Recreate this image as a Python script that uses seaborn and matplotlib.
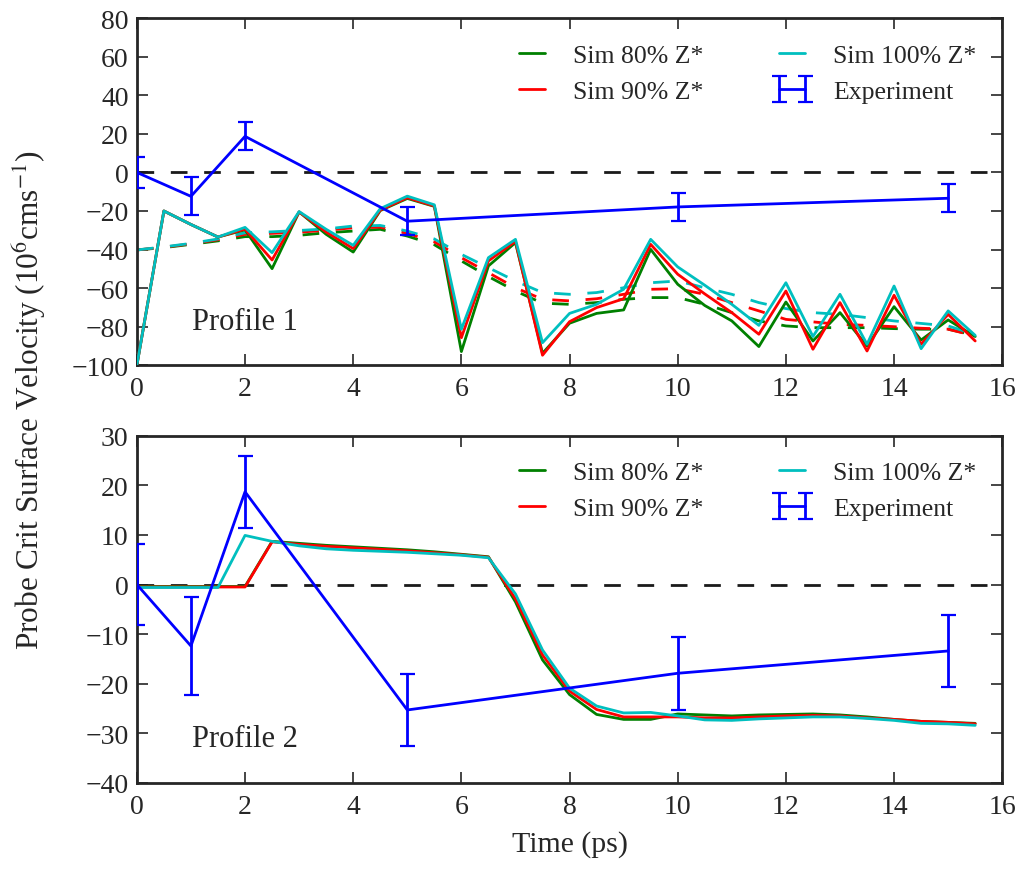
import numpy as np
import pandas as pd
import matplotlib
matplotlib.use("Agg")
import matplotlib.pyplot as plt
import seaborn as sns

# ---- data -------------------------------------------------------------
time = [0.0, 0.5, 1.0, 1.5, 2.0, 2.5, 3.0, 3.5, 4.0, 4.5, 5.0, 5.5,
        6.0, 6.5, 7.0, 7.5, 8.0, 8.5, 9.0, 9.5, 10.0, 10.5, 11.0, 11.5,
        12.0, 12.5, 13.0, 13.5, 14.0, 14.5, 15.0, 15.5]

# Profile 1, instantaneous velocity
p1_z80 = [-100, -20, -27, -33.5, -29.8, -49.9, -20.5, -32.1, -41.3, -19.8, -13.5, -17.6,
          -92.9, -48.5, -36.4, -93.8, -78.2, -73.1, -71.3, -39.9, -58.0, -69.0, -77.0, -90.3,
          -67.2, -87.4, -72.7, -90.0, -69.6, -86.9, -76.5, -85.1]
p1_z90 = [-100, -20, -27, -33.5, -29.4, -45.4, -20.5, -30.9, -39.5, -19.5, -13.1, -17.4,
          -85.7, -45.9, -35.7, -94.8, -77.4, -70.1, -65.5, -37.3, -52.8, -63.0, -72.7, -83.9,
          -61.5, -91.7, -67.5, -92.6, -63.7, -89.1, -73.6, -87.4]
p1_z100 = [-100, -20, -27, -33.5, -28.5, -41.6, -20.3, -29.5, -37.8, -18.8, -12.3, -16.8,
           -81.3, -44.2, -34.7, -88.3, -73.1, -68.4, -60.6, -34.7, -49.0, -58.5, -68.4, -79.3,
           -57.2, -85.1, -63.2, -89.1, -58.9, -91.4, -71.8, -84.5]

# Profile 1, averaged velocity (dashed)
p1_z80_avg = [-40.2, -39.0, -37.3, -35.5, -33.3, -33.3, -32.6, -31.3, -30.4, -29.5, -33.0, -37.5,
              -45.9, -54.0, -61.5, -67.8, -68.4, -67.5, -65.8, -64.9, -64.9, -68.4, -72.7, -77.0,
              -79.6, -80.5, -80.5, -80.5, -81.0, -81.3, -81.3, -84.5]
p1_z90_avg = [-40.2, -38.8, -37.0, -34.9, -32.1, -31.6, -31.0, -30.0, -28.7, -28.4, -31.6, -36.0,
              -44.2, -52.0, -59.8, -65.8, -66.6, -65.5, -63.2, -60.6, -60.3, -63.2, -67.5, -71.8,
              -76.2, -77.5, -78.8, -79.3, -80.0, -80.8, -81.3, -84.8]
p1_z100_avg = [-40.2, -38.6, -36.8, -34.5, -31.3, -30.8, -30.1, -29.3, -27.8, -27.5, -30.4, -34.5,
               -42.5, -49.4, -56.3, -62.3, -63.2, -62.3, -59.8, -57.2, -56.3, -59.8, -63.2, -67.5,
               -70.6, -72.7, -73.6, -75.3, -77.0, -78.3, -79.6, -84.0]

# Profile 2
p2_z80 = [-0.4, -0.4, -0.4, -0.4, -0.4, 8.7, 8.3, 7.9, 7.6, 7.3, 7.0, 6.6,
          6.1, 5.6, -3.5, -15.2, -22.2, -26.2, -27.2, -27.2, -26.1, -26.3, -26.5, -26.3,
          -26.2, -26.1, -26.3, -26.7, -27.2, -27.6, -27.8, -28.0]
p2_z90 = [-0.5, -0.5, -0.5, -0.5, -0.5, 8.6, 8.1, 7.7, 7.4, 7.1, 6.8, 6.4,
          6.0, 5.5, -2.9, -14.2, -21.5, -25.2, -26.7, -26.7, -26.7, -26.9, -26.9, -26.7,
          -26.5, -26.4, -26.5, -26.9, -27.2, -27.6, -27.8, -28.1]
p2_z100 = [-0.6, -0.6, -0.6, -0.6, 9.9, 8.7, 7.8, 7.2, 6.9, 6.7, 6.5, 6.2,
           5.9, 5.4, -1.9, -13.2, -20.9, -24.5, -25.9, -25.8, -26.5, -27.3, -27.4, -27.1,
           -26.9, -26.7, -26.7, -27.0, -27.4, -28.0, -28.1, -28.4]

# Measured velocity with uncertainty
exp_time = [0, 1, 2, 5, 10, 15]
exp_vel = [0.0, -12.4, 18.7, -25.3, -17.9, -13.4]
exp_err = [8.2, 9.9, 7.3, 7.3, 7.4, 7.3]

labels = ["Sim 80% Z*", "Sim 90% Z*", "Sim 100% Z*"]
colors = [(0, 0.5, 0), (1, 0, 0), (0, 0.75, 0.75)]
exp_color = (0, 0, 1)

# ---- style ------------------------------------------------------------
sns.set_theme(style="ticks")
plt.rcParams.update({
    "font.family": ["Liberation Serif", "DejaVu Serif"],
    "mathtext.fontset": "stix",
    "axes.unicode_minus": True,
    "lines.dashed_pattern": [6, 6],
    "lines.scale_dashes": True,
    "axes.linewidth": 2.0,
    "xtick.direction": "in",
    "ytick.direction": "in",
    "xtick.top": True,
    "ytick.right": True,
    "xtick.major.size": 8,
    "ytick.major.size": 8,
    "xtick.major.width": 1.2,
    "ytick.major.width": 1.2,
    "xtick.major.pad": 8,
    "ytick.major.pad": 6,
    "xtick.labelsize": 20,
    "ytick.labelsize": 20,
})

fig = plt.figure(figsize=(10.29, 8.7), dpi=100)
ax1 = fig.add_axes([0.133, 0.579, 0.841, 0.399])
ax2 = fig.add_axes([0.133, 0.099, 0.841, 0.399])

LW = 2.0


def draw_panel(ax, sims, avgs, ylim, yticks, tag):
    ax.axhline(0, color="k", ls="--", lw=LW, zorder=1)
    handles = []
    for vals, lab, col in zip(sims, labels, colors):
        sns.lineplot(x=time, y=vals, ax=ax, color=col, lw=LW, zorder=3)
        handles.append(ax.lines[-1])
        handles[-1].set_label(lab)
    if avgs is not None:
        for vals, col in zip(avgs, colors):
            sns.lineplot(x=time, y=vals, ax=ax, color=col, lw=LW, ls="--", zorder=2)
    eb = ax.errorbar(exp_time, exp_vel, yerr=exp_err, color=exp_color, lw=LW,
                     elinewidth=LW, capsize=5.4, capthick=1.6, label="Experiment", zorder=4)
    handles.append(eb)
    ax.set_xlim(0, 16)
    ax.set_ylim(*ylim)
    ax.set_xticks(np.arange(0, 17, 2))
    ax.set_yticks(yticks)
    ax.set_xlabel("")
    ax.set_ylabel("")
    ax.legend(handles=handles, loc="upper right", ncol=2, frameon=False,
              fontsize=18.5, numpoints=2, handlelength=1.6, handletextpad=0.8,
              columnspacing=2.65, labelspacing=0.5, borderaxespad=0.6)
    ax.text(0.064, 0.105, tag, transform=ax.transAxes, fontsize=22, va="baseline")


draw_panel(ax1, [p1_z80, p1_z90, p1_z100], [p1_z80_avg, p1_z90_avg, p1_z100_avg],
           (-100, 80), np.arange(-100, 81, 20), "Profile 1")
draw_panel(ax2, [p2_z80, p2_z90, p2_z100], None,
           (-40, 30), np.arange(-40, 31, 10), "Profile 2")

ax2.set_xlabel("Time (ps)", fontsize=21.5, labelpad=8)
fig.text(0.028, 0.54, r"Probe Crit Surface Velocity (10$^{6}$cms$^{-1}$)",
         rotation=90, ha="center", va="center", fontsize=22.5)

fig.savefig("out.png", dpi=100)
